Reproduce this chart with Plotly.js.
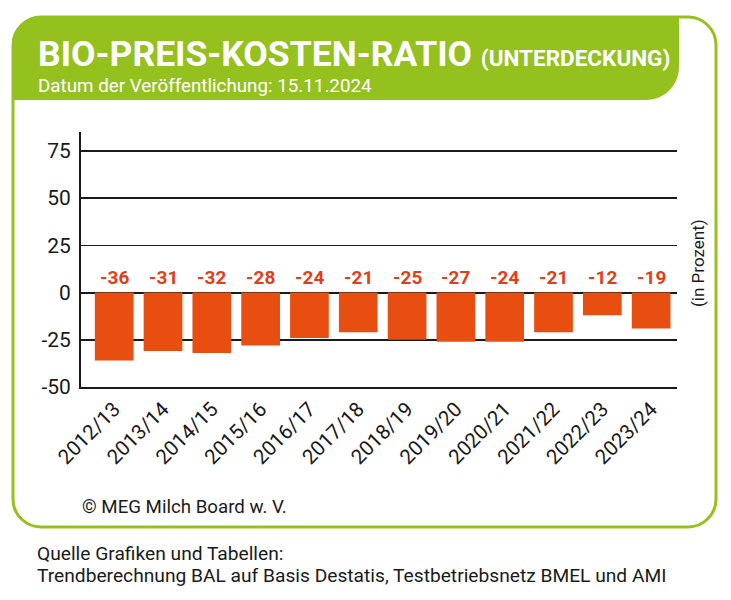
<!DOCTYPE html>
<html>
<head>
<meta charset="utf-8">
<script src="https://cdn.plot.ly/plotly-3.0.1.min.js"></script>
<style>
html,body{margin:0;padding:0;background:#fff;}
#chart{width:731px;height:600px;}
</style>
</head>
<body>
<div id="chart"></div>
<script>
// ---- data ----
var categories = ["2012/13","2013/14","2014/15","2015/16","2016/17","2017/18","2018/19","2019/20","2020/21","2021/22","2022/23","2023/24"];
var barValues = [-36,-31,-32,-28,-24,-21,-25,-26,-26,-21,-12,-19];
var barLabels = ["-36","-31","-32","-28","-24","-21","-25","-27","-24","-21","-12","-19"];
var yTickValues = [-50,-25,0,25,50,75];

// ---- layout helpers (pixel -> paper) ----
var W = 731, H = 600;
var M = {l:81, r:54, t:132, b:213};
var PW = W - M.l - M.r, PH = H - M.t - M.b;
function X(px){ return (px - M.l) / PW; }
function Y(py){ return (H - M.b - py) / PH; }
var K = 0.5523;
function P(x,y){ return X(x).toFixed(5) + "," + Y(y).toFixed(5); }

function roundRect(x0,y0,x1,y1,r){
  var k=r*K;
  return "M" + P(x0+r,y0) +
    " L" + P(x1-r,y0) +
    " C" + P(x1-r+k,y0) + " " + P(x1,y0+r-k) + " " + P(x1,y0+r) +
    " L" + P(x1,y1-r) +
    " C" + P(x1,y1-r+k) + " " + P(x1-r+k,y1) + " " + P(x1-r,y1) +
    " L" + P(x0+r,y1) +
    " C" + P(x0+r-k,y1) + " " + P(x0,y1-r+k) + " " + P(x0,y1-r) +
    " L" + P(x0,y0+r) +
    " C" + P(x0,y0+r-k) + " " + P(x0+r-k,y0) + " " + P(x0+r,y0) + " Z";
}
function headerPath(x0,y0,x1,y1,r1,r2){
  var k1=r1*K, k2=r2*K;
  return "M" + P(x0,y0+r1) +
    " C" + P(x0,y0+r1-k1) + " " + P(x0+r1-k1,y0) + " " + P(x0+r1,y0) +
    " L" + P(x1,y0) +
    " L" + P(x1,y1-r2) +
    " C" + P(x1,y1-r2+k2) + " " + P(x1-r2+k2,y1) + " " + P(x1-r2,y1) +
    " L" + P(x0,y1) + " Z";
}

var GREEN = "#95c11f";
var FONT = "Roboto, 'DejaVu Sans', sans-serif";

var trace = {
  type: "bar",
  x: categories,
  y: barValues,
  marker: {color: "#e84e0f", line: {width: 0}},
  hoverinfo: "none",
  showlegend: false
};

var annotations = [];
for (var i=0;i<categories.length;i++){
  annotations.push({
    x: categories[i], y: 8, xref: "x", yref: "y",
    text: barLabels[i], showarrow: false,
    font: {family: FONT, size: 19, color: "#e53d16", weight: 700},
    xanchor: "center", yanchor: "middle"
  });
}
annotations.push({
  xref: "paper", yref: "paper", x: X(36), y: Y(54),
  xanchor: "left", yanchor: "middle", showarrow: false,
  text: "<b>BIO-PREIS-KOSTEN-RATIO</b> <b><span style='font-size:22.5px'>(UNTERDECKUNG)</span></b>",
  font: {family: FONT, size: 35.5, color: "#ffffff"}
});
annotations.push({
  xref: "paper", yref: "paper", x: X(36), y: Y(86),
  xanchor: "left", yanchor: "middle", showarrow: false,
  text: "Datum der Veröffentlichung: 15.11.2024",
  font: {family: FONT, size: 18.8, color: "#ffffff"}
});
annotations.push({
  xref: "paper", yref: "paper", x: X(698), y: Y(263),
  xanchor: "center", yanchor: "middle", showarrow: false, textangle: -90,
  text: "(in Prozent)",
  font: {family: FONT, size: 17, color: "#1a1a1a"}
});
annotations.push({
  xref: "paper", yref: "paper", x: X(80), y: Y(507),
  xanchor: "left", yanchor: "middle", showarrow: false,
  text: "© MEG Milch Board w. V.",
  font: {family: FONT, size: 18.7, color: "#1a1a1a"}
});
annotations.push({
  xref: "paper", yref: "paper", x: X(35), y: Y(553),
  xanchor: "left", yanchor: "middle", showarrow: false,
  text: "Quelle Grafiken und Tabellen:",
  font: {family: FONT, size: 19.2, color: "#1a1a1a"}
});
annotations.push({
  xref: "paper", yref: "paper", x: X(35), y: Y(575),
  xanchor: "left", yanchor: "middle", showarrow: false,
  text: "Trendberechnung BAL auf Basis Destatis, Testbetriebsnetz BMEL und AMI",
  font: {family: FONT, size: 19.2, color: "#1a1a1a"}
});

var layout = {
  width: W, height: H,
  margin: M,
  paper_bgcolor: "#ffffff",
  plot_bgcolor: "rgba(0,0,0,0)",
  font: {family: FONT, color: "#1a1a1a"},
  bargap: 0.207,
  showlegend: false,
  xaxis: {
    type: "category",
    range: [-0.68, 11.53],
    tickangle: -45,
    tickfont: {family: FONT, size: 20.5, color: "#1a1a1a"},
    showline: true, linecolor: "#1a1a1a", linewidth: 2,
    showgrid: false, ticks: "", zeroline: false,
    fixedrange: true
  },
  yaxis: {
    range: [-50, 85],
    tickvals: yTickValues,
    ticktext: yTickValues.map(String),
    tickfont: {family: FONT, size: 21, color: "#1a1a1a"},
    showline: true, linecolor: "#1a1a1a", linewidth: 2,
    showgrid: true, gridcolor: "#1a1a1a", gridwidth: 1.6,
    zeroline: true, zerolinecolor: "#1a1a1a", zerolinewidth: 2,
    ticks: "", ticklabelstandoff: 4,
    fixedrange: true
  },
  shapes: [
    {type: "path", xref: "paper", yref: "paper", layer: "below",
     path: headerPath(13, 17, 679, 100, 28, 33),
     fillcolor: GREEN, line: {width: 0}},
    {type: "path", xref: "paper", yref: "paper", layer: "below",
     path: roundRect(13, 17, 716, 527, 28),
     fillcolor: "rgba(0,0,0,0)", line: {color: GREEN, width: 3}}
  ],
  annotations: annotations
};

Plotly.newPlot("chart", [trace], layout, {staticPlot: true, displayModeBar: false});
</script>
</body>
</html>
